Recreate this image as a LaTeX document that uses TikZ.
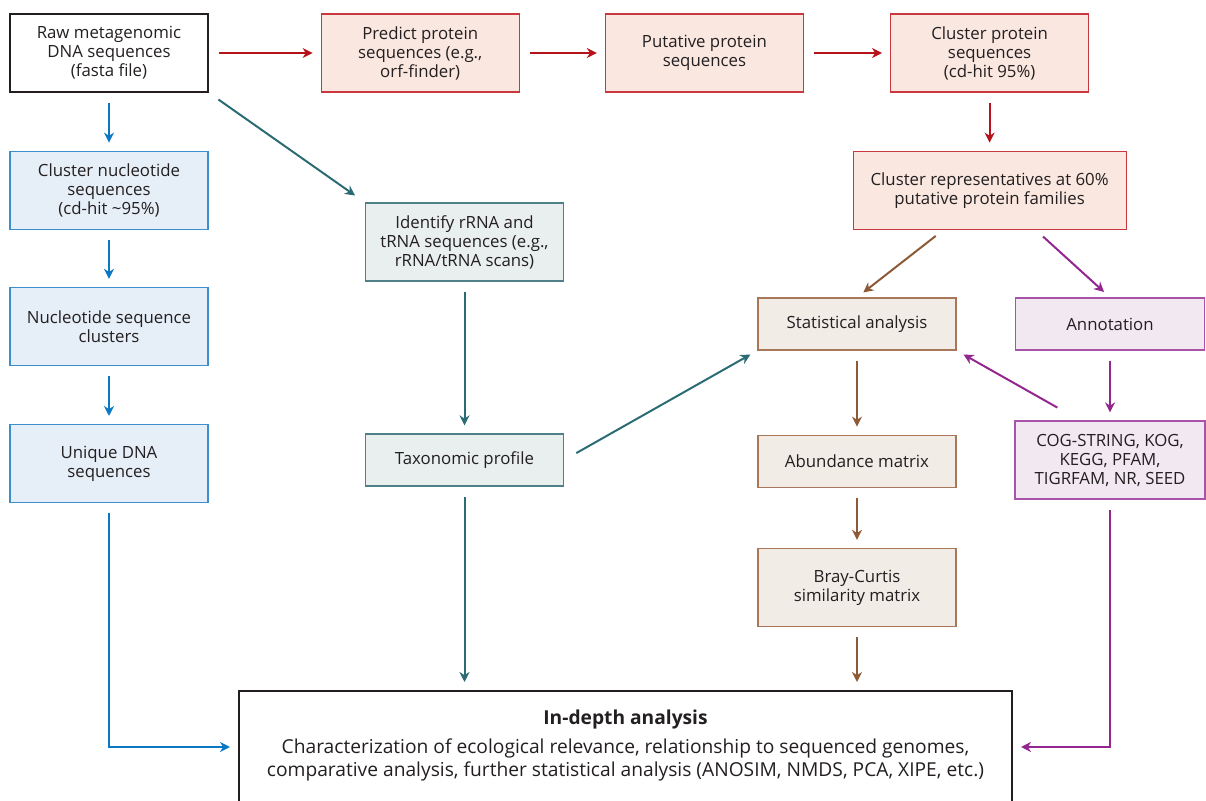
\documentclass[tikz,border=0pt]{standalone}
\usepackage{fontspec}
\setmainfont{Open Sans}
\usepackage{xcolor}
\usepackage{tikz}
\usetikzlibrary{arrows.meta}
\usetikzlibrary{positioning}
\usetikzlibrary{calc}

\definecolor{inktext}{HTML}{231F20}
\definecolor{redline}{HTML}{B5121B}
\definecolor{rededge}{HTML}{C9383F}
\definecolor{redfill}{HTML}{F9E7E0}
\definecolor{blueline}{HTML}{0A78C2}
\definecolor{blueedge}{HTML}{3A8FCC}
\definecolor{bluefill}{HTML}{E6EEF8}
\definecolor{tealline}{HTML}{2B6C74}
\definecolor{tealedge}{HTML}{4E8087}
\definecolor{tealfill}{HTML}{E9EEEE}
\definecolor{brownline}{HTML}{8C5A36}
\definecolor{brownedge}{HTML}{A8775A}
\definecolor{brownfill}{HTML}{F1ECE6}
\definecolor{purpline}{HTML}{93278F}
\definecolor{purpedge}{HTML}{A653A8}
\definecolor{purpfill}{HTML}{F1E8F2}

\tikzset{
  box/.style={rectangle, draw, line width=0.6pt, minimum width=99pt, minimum height=39pt,
    align=center, inner sep=2pt, text=inktext, font=\fontsize{8.4}{9.5}\selectfont},
  lowbox/.style={box, minimum height=26pt},
  plainbox/.style={box, draw=inktext, fill=white},
  redbox/.style={box, draw=rededge, fill=redfill},
  bluebox/.style={box, draw=blueedge, fill=bluefill},
  tealbox/.style={box, draw=tealedge, fill=tealfill},
  brownbox/.style={box, draw=brownedge, fill=brownfill},
  purpbox/.style={box, draw=purpedge, fill=purpfill},
  flow/.style={line width=1pt, -{Stealth[length=5pt,width=5pt,inset=1.6pt]},
    shorten <=5pt, shorten >=4pt},
}

\begin{document}
\begin{tikzpicture}[x=0.5pt, y=-0.5pt]
	\useasboundingbox (0,0) rectangle (1206,801);
	% top row
	\node[plainbox] (raw) at (109,53) {Raw metagenomic\\DNA sequences\\(fasta file)};
	\node[redbox] (predict) [right=56pt of raw] {Predict protein\\sequences (e.g.,\\orf-finder)};
	\node[redbox] (putative) [right=42.5pt of predict] {Putative protein\\sequences};
	\node[redbox] (clprot) [right=43pt of putative] {Cluster protein\\sequences\\(cd-hit 95\%)};
	\node[redbox, minimum width=136.5pt] (reps) [below=29pt of clprot] {Cluster representatives at 60\%\\putative protein families};
	% nucleotide column
	\node[bluebox] (clnuc) [below=29pt of raw] {Cluster nucleotide\\sequences\\(cd-hit \textasciitilde95\%)};
	\node[bluebox] (nucclus) [below=28.5pt of clnuc] {Nucleotide sequence\\clusters};
	\node[bluebox] (unique) [below=29pt of nucclus] {Unique DNA\\sequences};
	% rRNA column
	\node[tealbox] (ident) at (464.5,242) {Identify rRNA and\\tRNA sequences (e.g.,\\rRNA/tRNA scans)};
	\node[tealbox, lowbox] (taxo) at (464.5,460) {Taxonomic profile};
	% statistics and annotation
	\node[brownbox, lowbox] (stat) at (857,324) {Statistical analysis};
	\node[brownbox, lowbox] (abund) [below=42pt of stat] {Abundance matrix};
	\node[brownbox] (bray) [below=30pt of abund] {Bray-Curtis\\similarity matrix};
	\node[purpbox, lowbox, minimum width=94.5pt] (annot) at (1110,324) {Annotation};
	\node[purpbox, minimum width=95pt] (cog) at (1110,460) {COG-STRING, KOG,\\KEGG, PFAM,\\TIGRFAM, NR, SEED};
	% final box, open at the bottom edge
	\node[box, draw=inktext, line width=1pt, minimum width=386.5pt, minimum height=56pt] (indepth) at (625.5,747)
	  {{\fontsize{9.6}{12}\selectfont\bfseries In-depth analysis}\\[3.5pt]
	   \fontsize{9.6}{10.5}\selectfont Characterization of ecological relevance, relationship to sequenced genomes,\\[1pt]
	   \fontsize{9.6}{10.5}\selectfont comparative analysis, further statistical analysis (ANOSIM, NMDS, PCA, XIPE, etc.)\\[-6pt]\mbox{}};

	% protein arrows
	\draw[flow, redline] (raw) -- (predict);
	\draw[flow, redline] (predict) -- (putative);
	\draw[flow, redline] (putative) -- (clprot);
	\draw[flow, redline] (clprot) -- (reps);
	% nucleotide arrows
	\draw[flow, blueline] (raw) -- (clnuc);
	\draw[flow, blueline] (clnuc) -- (nucclus);
	\draw[flow, blueline] (nucclus) -- (unique);
	\draw[flow, blueline] (unique) |- (indepth);
	% rRNA arrows
	\draw[flow, tealline, shorten <=6pt, shorten >=6pt] (raw.south east) -- (ident.north west);
	\draw[flow, tealline] (ident) -- (taxo);
	\draw[flow, tealline] (taxo) -- (taxo |- indepth.north);
	\draw[flow, tealline, shorten <=7pt] (taxo.east) -- (stat.south west);
	% statistics arrows
	\draw[flow, brownline] ($(reps.south)+(-46,0)$) -- (stat.north);
	\draw[flow, brownline] (stat) -- (abund);
	\draw[flow, brownline] (abund) -- (bray);
	\draw[flow, brownline] (bray) -- (bray |- indepth.north);
	% annotation arrows
	\draw[flow, purpline] ($(reps.south)+(46,0)$) -- (annot.north);
	\draw[flow, purpline] (annot) -- (cog);
	\draw[flow, purpline, shorten <=13pt] ($(cog.north)+(-30,0)$) -- (stat.south east);
	\draw[flow, purpline] (cog) |- (indepth);
\end{tikzpicture}
\end{document}
